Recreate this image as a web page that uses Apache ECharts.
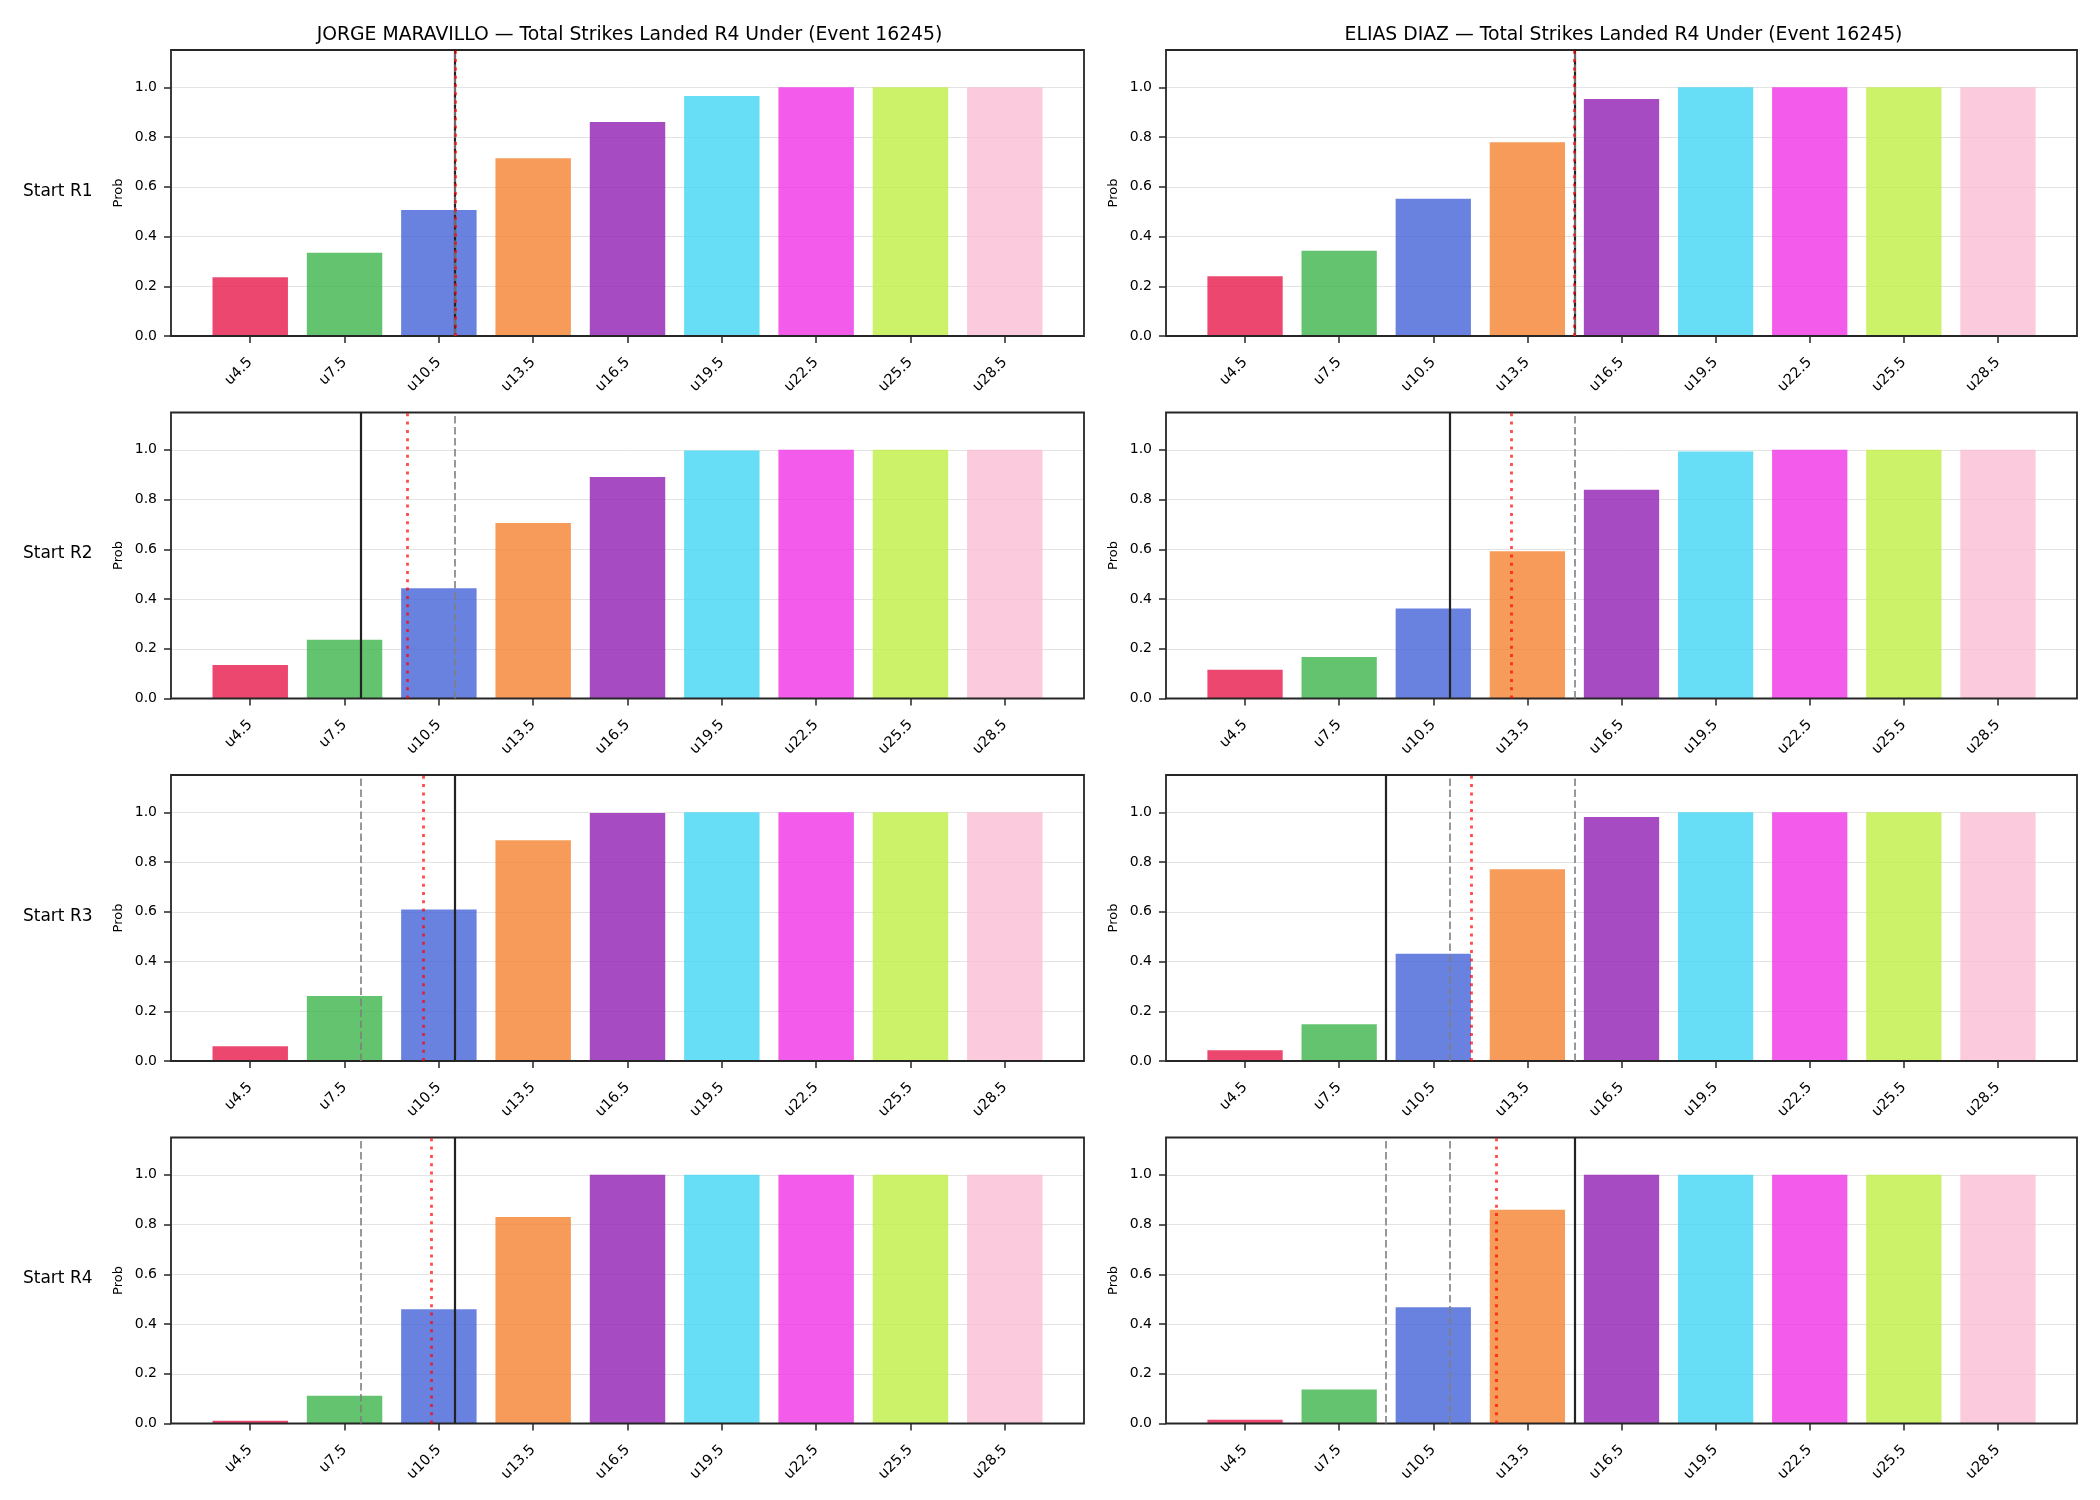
<!DOCTYPE html>
<html>
<head>
<meta charset="utf-8">
<title>Total Strikes Landed R4 Under</title>
<script src="https://cdn.jsdelivr.net/npm/echarts@6.0.0/dist/echarts.min.js"></script>
<style>
  html, body { margin: 0; padding: 0; background: #fff; }
  #chart { width: 2100px; height: 1500px; }
</style>
</head>
<body>
<div id="chart"></div>
<script>
// categories (strike thresholds) and labels
const xLabels = ["u4.5", "u7.5", "u10.5", "u13.5", "u16.5", "u19.5", "u22.5", "u25.5", "u28.5"];
const xLines = [4.5, 7.5, 10.5, 13.5, 16.5, 19.5, 22.5, 25.5, 28.5];
const rowLabels = ["Start R1", "Start R2", "Start R3", "Start R4"];
const fighters = ["JORGE MARAVILLO", "ELIAS DIAZ"];
const yTicks = [0, 0.2, 0.4, 0.6, 0.8, 1.0];

// P(under) per start round
const jorgeR1 = [0.236, 0.335, 0.507, 0.715, 0.860, 0.965, 1.0, 1.0, 1.0];
const jorgeR2 = [0.135, 0.236, 0.443, 0.706, 0.891, 0.997, 1.0, 1.0, 1.0];
const jorgeR3 = [0.059, 0.261, 0.609, 0.888, 0.997, 1.0, 1.0, 1.0, 1.0];
const jorgeR4 = [0.011, 0.112, 0.459, 0.830, 1.0, 1.0, 1.0, 1.0, 1.0];
const eliasR1 = [0.240, 0.343, 0.552, 0.779, 0.953, 1.0, 1.0, 1.0, 1.0];
const eliasR2 = [0.116, 0.167, 0.362, 0.592, 0.839, 0.993, 1.0, 1.0, 1.0];
const eliasR3 = [0.043, 0.148, 0.431, 0.771, 0.981, 1.0, 1.0, 1.0, 1.0];
const eliasR4 = [0.015, 0.137, 0.467, 0.859, 1.0, 1.0, 1.0, 1.0, 1.0];

// reference lines, in strikes (solid / dashed / dotted) per start round
const jorgeSolid = [11, 8, 11, 11];
const jorgeDashed = [[11], [11], [8], [8]];
const jorgeDotted = [11, 9.5, 10, 10.25];
const eliasSolid = [15, 11, 9, 15];
const eliasDashed = [[15], [15], [11, 15], [9, 11]];
const eliasDotted = [15, 13, 11.7, 12.5];

const barColors = ["#e6194b", "#3cb44b", "#4363d8", "#f58231", "#911eb4",
                   "#42d4f4", "#f032e6", "#bfef45", "#fabed4"];

const panels = [
  [jorgeR1, jorgeR2, jorgeR3, jorgeR4],
  [eliasR1, eliasR2, eliasR3, eliasR4]
];
const solids = [jorgeSolid, eliasSolid];
const dasheds = [jorgeDashed, eliasDashed];
const dotteds = [jorgeDotted, eliasDotted];

// layout (px)
const gridLeft = [171, 1166];
const gridWidth = [913, 911];
const gridTop = [50, 412.5, 775, 1137.5];
const gridHeight = 286;
const FONT = "DejaVu Sans";

// map a strike count onto the bar index axis
function strikePos(v) {
  const step = xLines[1] - xLines[0];
  return (v - xLines[0]) / step;
}

let grid = [], xAxis = [], yAxis = [], series = [], titles = [], graphics = [];

for (let c = 0; c < 2; c++) {
  titles.push({
    text: fighters[c] + " \u2014 Total Strikes Landed R4 Under (Event 16245)",
    left: gridLeft[c] + gridWidth[c] / 2 - 3,
    top: 21,
    textAlign: "center",
    textStyle: { fontFamily: FONT, fontSize: 18.8, fontWeight: "normal", color: "#000" }
  });
  for (let r = 0; r < 4; r++) {
    let idx = grid.length;
    // z above the bars so the frame is drawn like matplotlib spines
    grid.push({
      left: gridLeft[c], top: gridTop[r], width: gridWidth[c], height: gridHeight, z: 3,
      show: true, borderColor: "#262626", borderWidth: 1.8, backgroundColor: "transparent"
    });
    let unit = gridWidth[c] / 9.68;
    xAxis.push({
      gridIndex: idx,
      type: "value",
      min: -0.84,
      max: 8.84,
      axisLine: { show: false, onZero: false },
      axisTick: { show: true, length: 7, customValues: [0, 1, 2, 3, 4, 5, 6, 7, 8],
                  lineStyle: { color: "#262626", width: 1.5 } },
      axisLabel: {
        customValues: [0, 1, 2, 3, 4, 5, 6, 7, 8],
        rotate: 45, margin: 24,
        fontFamily: FONT, fontSize: 14.5, color: "#000",
        formatter: v => xLabels[Math.round(v)]
      },
      splitLine: { show: false }
    });
    yAxis.push({
      gridIndex: idx,
      type: "value",
      min: 0,
      max: 1.15,
      interval: 0.2,
      name: "Prob",
      nameLocation: "middle",
      nameGap: 46,
      nameTextStyle: { fontFamily: FONT, fontSize: 13, color: "#000" },
      axisLine: { show: false, onZero: false },
      axisTick: { show: true, length: 7, customValues: yTicks,
                  lineStyle: { color: "#262626", width: 1.5 } },
      axisLabel: { customValues: yTicks, margin: 14, fontFamily: FONT, fontSize: 14, color: "#000",
                   formatter: v => v.toFixed(1) },
      splitLine: { show: true, lineStyle: { color: "#e3e3e3", width: 1 } }
    });

    let lines = [{ xAxis: strikePos(solids[c][r]), lineStyle: { color: "#222", width: 2.2, type: "solid" } }];
    dasheds[c][r].forEach(v => {
      lines.push({ xAxis: strikePos(v), lineStyle: { color: "#7f7f7f", width: 1.6, type: [7.5, 3.5] } });
    });
    lines.push({ xAxis: strikePos(dotteds[c][r]), lineStyle: { color: "rgba(255,0,0,0.7)", width: 2.8, type: [3, 5.3] } });

    series.push({
      type: "bar",
      xAxisIndex: idx,
      yAxisIndex: idx,
      barWidth: unit * 0.8,
      data: panels[c][r].map((v, i) => ({
        value: [i, v],
        itemStyle: { color: barColors[i], opacity: 0.8 }
      })),
      markLine: {
        silent: true,
        symbol: ["none", "none"],
        label: { show: false },
        animation: false,
        data: lines
      }
    });
  }
}

// row labels on the left
for (let r = 0; r < 4; r++) {
  graphics.push({
    type: "text",
    left: 23,
    top: gridTop[r] + gridHeight / 2 - 10,
    style: { text: rowLabels[r], fontFamily: FONT, fontSize: 17, fill: "#000" }
  });
}

let myChart = echarts.init(document.getElementById("chart"));
let option = {
  backgroundColor: "#fff",
  animation: false,
  title: titles,
  grid: grid,
  xAxis: xAxis,
  yAxis: yAxis,
  series: series,
  graphic: graphics
};
myChart.setOption(option);
</script>
</body>
</html>
